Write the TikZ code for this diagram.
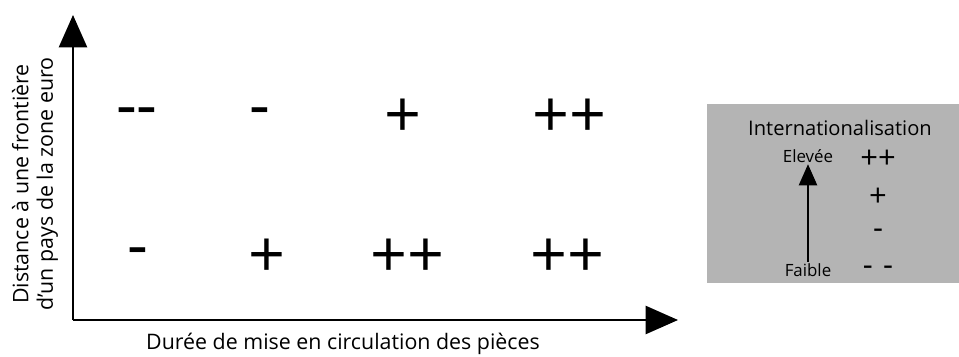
\documentclass[tikz,border=0pt]{standalone}
\usepackage{fontspec}
\setmainfont{Open Sans}
\usetikzlibrary{arrows.meta}
\definecolor{legendgray}{RGB}{180,180,180}
\begin{document}
\begin{tikzpicture}[
  x=0.025cm, y=-0.025cm,
  axis/.style={line width=1.4pt,-{Triangle[length=23pt,width=20pt]}},
  sym/.style={font=\fontsize{46}{46}\selectfont,inner sep=0pt},
  lsym/.style={font=\fontsize{22}{22}\selectfont,inner sep=0pt},
  lab/.style={font=\fontsize{15.2}{17.5}\selectfont,inner sep=0pt,align=center},
  small/.style={font=\fontsize{12}{13}\selectfont,inner sep=1pt},
]
  \useasboundingbox (0,0) rectangle (959,356);

  % axes
  \coordinate (O) at (73,320);
  \coordinate (Ytip) at (73,15);
  \coordinate (Xtip) at (678,320);
  \draw[axis] (O) -- (Ytip);
  \draw[axis] (O) -- (Xtip);

  \node[lab,rotate=90] (ylab) at (35,184) {Distance à une frontière\\d'un pays de la zone euro};
  \node[lab] (xlab) at (343,344) {Durée de mise en circulation des pièces};

  % grid of signs
  \node[sym] (a1) at (137,118) {-\kern-1pt-};
  \node[sym] (a2) at (260,118) {-};
  \node[sym] (a3) at (403,118) {+};
  \node[sym] (a4) at (569,118) {++};
  \node[sym] (b1) at (138,258) {-};
  \node[sym] (b2) at (267,258) {+};
  \node[sym] (b3) at (407,258) {++};
  \node[sym] (b4) at (567,258) {++};

  % legend
  \fill[legendgray] (707,104) rectangle (959,283);
  \node[lab,font=\fontsize{14.3}{16}\selectfont] (ltitle) at (840,128) {Internationalisation};
  \node[small] (high) at (808,156) {Elevée};
  \node[small] (low) at (808,270) {Faible};
  \draw[line width=1pt,-{Triangle[length=15pt,width=13pt]}] (low.north) -- (high.south);
  \node[lsym] (l1) at (878,159) {++};
  \node[lsym] (l2) at (878,197) {+};
  \node[lsym] (l3) at (878,234) {-};
  \node[lsym] (l4) at (878,271) {-\,\,-};
\end{tikzpicture}
\end{document}
